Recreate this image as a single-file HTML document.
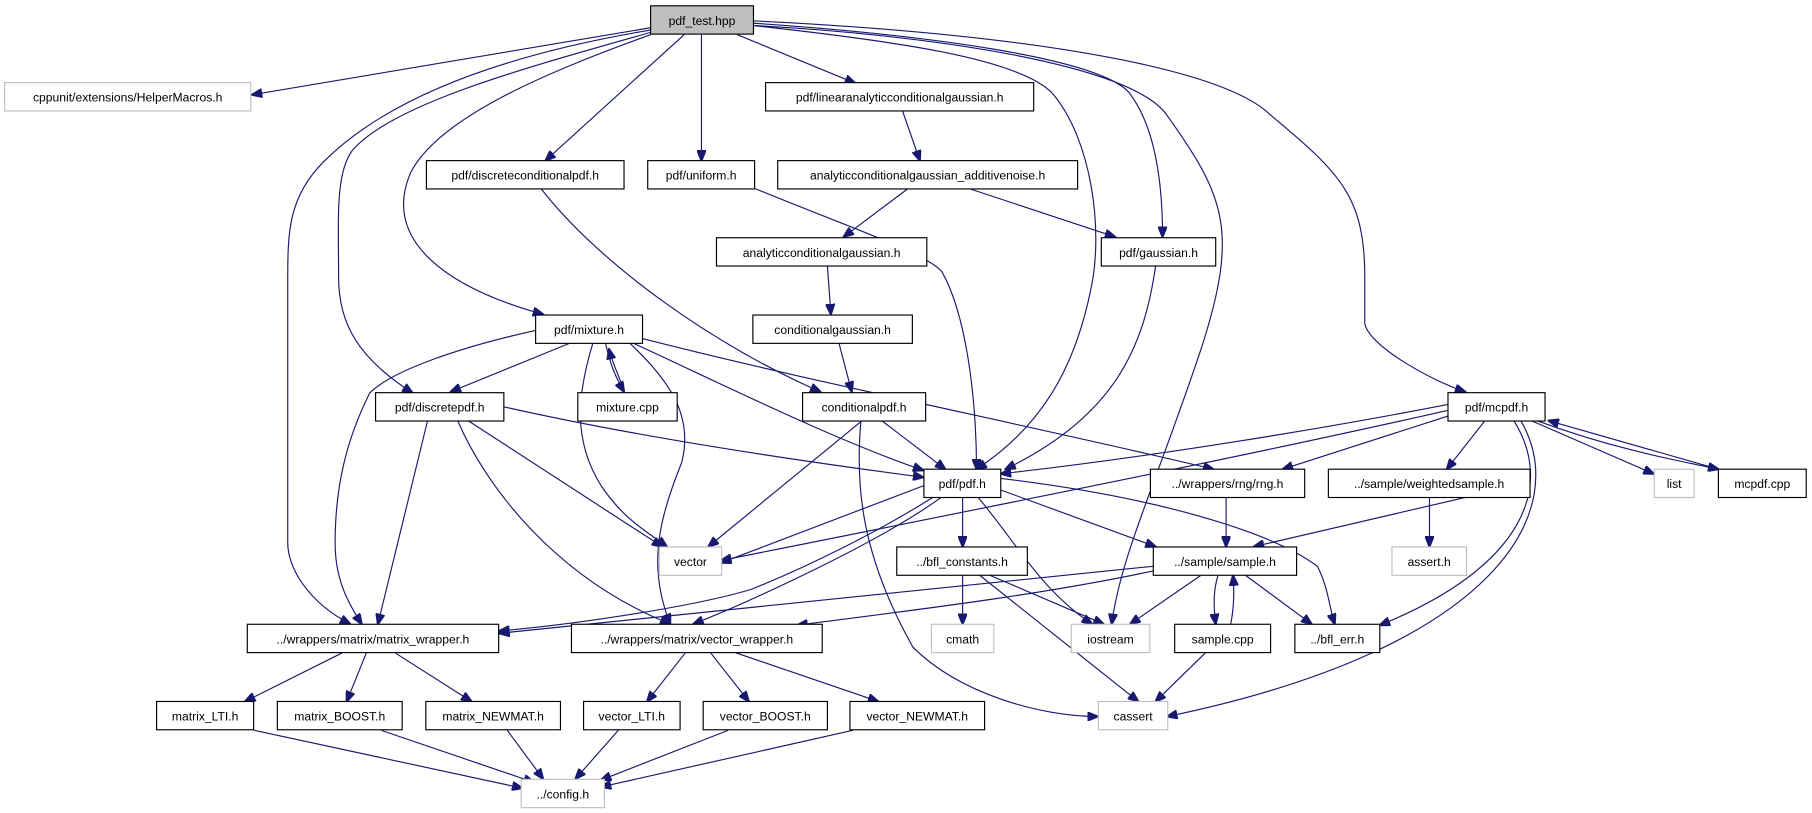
<!DOCTYPE html>
<html><head><meta charset="utf-8"><style>
html,body{margin:0;padding:0;background:#fff}
svg{display:block}
text{font-family:"Liberation Sans",sans-serif;font-size:10.5px;fill:#000;text-anchor:middle}
.n{fill:#fff;stroke:#000;stroke-width:1}
.g{fill:#fff;stroke:#bfbfbf;stroke-width:1}
path{fill:none;stroke:#191970;stroke-width:1}
</style></head><body>
<svg width="1812" height="813" viewBox="0 0 1568 703.5" xmlns="http://www.w3.org/2000/svg">
<defs><marker id="a" markerWidth="10" markerHeight="8" refX="9" refY="4" orient="auto" markerUnits="userSpaceOnUse"><path d="M0,0 L10,4 L0,8 Z" style="fill:#191970;stroke:#191970"/></marker></defs>
<g marker-end="url(#a)">
<path d="M563,24 L218,82"/>
<path d="M563,26 C420,50 330,90 280,140 C250,170 249,200 249,240 L249,470 C249,490 265,520 303,540"/>
<path d="M563,28 C450,60 340,90 305,130 C290,150 293,190 293,240 C293,280 310,310 357,340"/>
<path d="M563,30 C480,60 380,100 355,150 C330,210 390,250 470,272"/>
<path d="M592,30 L472,139"/>
<path d="M607,30 L607,139"/>
<path d="M638,30 L740,72"/>
<path d="M651,22 C770,35 880,50 910,80 C945,120 955,200 944,250 C930,320 900,370 845,406"/>
<path d="M651,20 C800,30 950,50 977,80 C1000,110 1006,160 1006,205"/>
<path d="M651,22 C800,30 980,55 1010,100 C1060,170 1072,200 1040,300 C1000,420 970,480 962,540"/>
<path d="M651,18 C900,30 1060,60 1100,100 C1160,150 1181,170 1181,240 L1181,280 C1185,300 1240,330 1268,339"/>
<path d="M781,96 L796,139"/>
<path d="M786,163 L730,205"/>
<path d="M838,163 L965,205"/>
<path d="M716,230 L719,272"/>
<path d="M726,297 L737,339"/>
<path d="M468,163 C520,230 620,300 710,339"/>
<path d="M653,163 C730,195 800,218 815,235 C835,270 845,340 845,406"/>
<path d="M1000,230 C990,300 965,360 870,406"/>
<path d="M493,297 L390,339"/>
<path d="M513,297 C500,340 495,380 520,420 C540,450 560,460 577,473"/>
<path d="M524,297 C528,315 532,325 540,339"/>
<path d="M540,339 C536,325 530,315 527,302"/>
<path d="M548,297 C620,330 720,380 799,407"/>
<path d="M545,297 C580,330 600,360 590,400 C570,450 560,490 580,540"/>
<path d="M556,293 C700,330 900,370 1050,406"/>
<path d="M463,286 C400,300 340,320 320,340 C300,380 290,420 290,470 C290,500 300,520 313,540"/>
<path d="M436,352 C560,380 700,400 799,413"/>
<path d="M405,364 L573,473"/>
<path d="M396,364 C420,420 480,500 580,540"/>
<path d="M370,364 L327,540"/>
<path d="M746,364 L613,473"/>
<path d="M763,364 L818,406"/>
<path d="M745,364 C740,420 745,480 790,560 C830,600 900,620 950,620"/>
<path d="M1253,350 C1150,370 1000,395 866,410"/>
<path d="M1253,355 C1100,390 900,430 624,485"/>
<path d="M1253,360 L1110,406"/>
<path d="M1285,364 L1252,406"/>
<path d="M1310,364 C1345,420 1320,490 1194,541"/>
<path d="M1316,364 C1360,440 1300,560 1010,620"/>
<path d="M1325,364 L1431,410"/>
<path d="M1330,364 C1400,390 1460,400 1487,406"/>
<path d="M1487,406 C1430,390 1380,375 1340,364"/>
<path d="M800,420 L624,487"/>
<path d="M808,430 C760,460 700,490 650,510 C600,525 500,540 432,546"/>
<path d="M815,430 C760,470 650,520 600,540"/>
<path d="M833,430 L833,473"/>
<path d="M846,430 C880,470 900,510 945,540"/>
<path d="M866,424 L1000,473"/>
<path d="M866,414 C1000,430 1100,460 1140,490 C1150,510 1150,525 1155,540"/>
<path d="M1061,430 L1061,473"/>
<path d="M1270,430 L1085,473"/>
<path d="M1237,430 L1237,473"/>
<path d="M833,498 L833,540"/>
<path d="M857,498 L955,540"/>
<path d="M848,498 L985,607"/>
<path d="M998,490 C800,510 600,530 432,548"/>
<path d="M998,494 C900,515 790,528 690,541"/>
<path d="M1039,498 L978,540"/>
<path d="M1054,498 C1050,510 1050,525 1052,540"/>
<path d="M1065,540 C1068,525 1068,510 1067,498"/>
<path d="M1078,498 L1135,540"/>
<path d="M1043,565 L1000,607"/>
<path d="M296,565 L212,607"/>
<path d="M317,565 L300,607"/>
<path d="M342,565 L408,607"/>
<path d="M593,565 L560,607"/>
<path d="M615,565 L648,607"/>
<path d="M637,565 L760,607"/>
<path d="M220,632 L452,682"/>
<path d="M330,632 L462,677"/>
<path d="M439,632 L470,674"/>
<path d="M535,632 L498,674"/>
<path d="M630,632 L520,675"/>
<path d="M738,632 L520,681"/>
</g>
<rect x="563" y="5" width="89" height="24.5" style="fill:#bfbfbf;stroke:#000"/><text x="607.5" y="21.5">pdf_test.hpp</text>
<rect class="g" x="4" y="71.5" width="213" height="24.5"/><text x="110.5" y="88">cppunit/extensions/HelperMacros.h</text>
<rect class="n" x="662.5" y="71.5" width="232" height="24.5"/><text x="778.5" y="88">pdf/linearanalyticconditionalgaussian.h</text>
<rect class="n" x="369" y="139" width="171" height="24.5"/><text x="454.5" y="155.5">pdf/discreteconditionalpdf.h</text>
<rect class="n" x="560.5" y="139" width="92.5" height="24.5"/><text x="606.7" y="155.5">pdf/uniform.h</text>
<rect class="n" x="673" y="139" width="259.5" height="24.5"/><text x="802.7" y="155.5">analyticconditionalgaussian_additivenoise.h</text>
<rect class="n" x="620" y="205.7" width="182" height="24.5"/><text x="711" y="222.2">analyticconditionalgaussian.h</text>
<rect class="n" x="953" y="205.7" width="99" height="24.5"/><text x="1002.5" y="222.2">pdf/gaussian.h</text>
<rect class="n" x="463.5" y="272.6" width="92.5" height="24.5"/><text x="509.7" y="289">pdf/mixture.h</text>
<rect class="n" x="651.5" y="272.6" width="138" height="24.5"/><text x="720.5" y="289">conditionalgaussian.h</text>
<rect class="n" x="325" y="339.8" width="111" height="24.5"/><text x="380.5" y="356.3">pdf/discretepdf.h</text>
<rect class="n" x="500" y="339.8" width="86" height="24.5"/><text x="543" y="356.3">mixture.cpp</text>
<rect class="n" x="694.5" y="339.8" width="106.5" height="24.5"/><text x="747.7" y="356.3">conditionalpdf.h</text>
<rect class="n" x="1253" y="339.8" width="84" height="24.5"/><text x="1295" y="356.3">pdf/mcpdf.h</text>
<rect class="n" x="799.5" y="406" width="66.5" height="24.5"/><text x="832.7" y="422.5">pdf/pdf.h</text>
<rect class="n" x="995.5" y="406" width="133.5" height="24.5"/><text x="1062.2" y="422.5">../wrappers/rng/rng.h</text>
<rect class="n" x="1149.5" y="406" width="174.5" height="24.5"/><text x="1236.7" y="422.5">../sample/weightedsample.h</text>
<rect class="g" x="1431.5" y="406" width="34.5" height="24.5"/><text x="1448.7" y="422.5">list</text>
<rect class="n" x="1487" y="406" width="76" height="24.5"/><text x="1525" y="422.5">mcpdf.cpp</text>
<rect class="g" x="570.5" y="473.3" width="54" height="24.5"/><text x="597.5" y="489.8">vector</text>
<rect class="n" x="776" y="473.3" width="113" height="24.5"/><text x="832.5" y="489.8">../bfl_constants.h</text>
<rect class="n" x="998" y="473.3" width="124" height="24.5"/><text x="1060" y="489.8">../sample/sample.h</text>
<rect class="g" x="1204.5" y="473.3" width="64.5" height="24.5"/><text x="1236.7" y="489.8">assert.h</text>
<rect class="n" x="214" y="540.2" width="217.5" height="24.5"/><text x="322.7" y="556.7">../wrappers/matrix/matrix_wrapper.h</text>
<rect class="n" x="494.5" y="540.2" width="217" height="24.5"/><text x="603" y="556.7">../wrappers/matrix/vector_wrapper.h</text>
<rect class="g" x="806" y="540.2" width="54" height="24.5"/><text x="833" y="556.7">cmath</text>
<rect class="g" x="927" y="540.2" width="68" height="24.5"/><text x="961" y="556.7">iostream</text>
<rect class="n" x="1016.5" y="540.2" width="83" height="24.5"/><text x="1058" y="556.7">sample.cpp</text>
<rect class="n" x="1120.5" y="540.2" width="73.5" height="24.5"/><text x="1157.2" y="556.7">../bfl_err.h</text>
<rect class="n" x="135.5" y="607" width="84" height="24.5"/><text x="177.5" y="623.5">matrix_LTI.h</text>
<rect class="n" x="240" y="607" width="108" height="24.5"/><text x="294" y="623.5">matrix_BOOST.h</text>
<rect class="n" x="368.5" y="607" width="116.5" height="24.5"/><text x="426.7" y="623.5">matrix_NEWMAT.h</text>
<rect class="n" x="505" y="607" width="83.5" height="24.5"/><text x="546.7" y="623.5">vector_LTI.h</text>
<rect class="n" x="608.5" y="607" width="107.5" height="24.5"/><text x="662.2" y="623.5">vector_BOOST.h</text>
<rect class="n" x="735.5" y="607" width="116.5" height="24.5"/><text x="793.7" y="623.5">vector_NEWMAT.h</text>
<rect class="g" x="950.5" y="607" width="60" height="24.5"/><text x="980.5" y="623.5">cassert</text>
<rect class="g" x="451" y="674.4" width="72" height="24.5"/><text x="487" y="690.9">../config.h</text>
</svg>
</body></html>
